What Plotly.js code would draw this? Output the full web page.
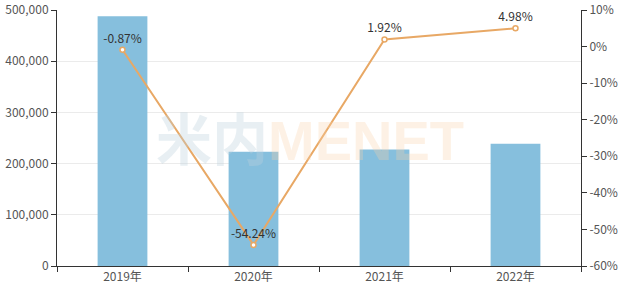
<!DOCTYPE html>
<html>
<head>
<meta charset="utf-8">
<script src="https://cdn.plot.ly/plotly-3.0.1.min.js"></script>
<style>html,body{margin:0;padding:0;background:#fff;}#chart{width:621px;height:290px;}</style>
</head>
<body>
<div id="chart"></div>
<script>
var categories = ['2019年', '2020年', '2021年', '2022年'];
var volumes = [488000, 223000, 227500, 239000];
var growthPct = [-0.87, -54.24, 1.92, 4.98];
var pctTicks = [10, 0, -10, -20, -30, -40, -50, -60];

var font = "'Noto Sans CJK SC', 'Microsoft YaHei', sans-serif";

var traces = [
  {
    type: 'bar', x: categories, y: volumes,
    marker: {color: '#86BFDD'}, hoverinfo: 'none', showlegend: false
  },
  {
    type: 'scatter', mode: 'lines+markers+text', x: categories, y: growthPct, yaxis: 'y2',
    line: {color: '#E8A865', width: 2},
    marker: {size: 5, color: '#ffffff', line: {color: '#E8A865', width: 1.5}},
    text: growthPct.map(function(v){ return v.toFixed(2) + '%'; }),
    textposition: 'top center', textfont: {family: font, size: 12, color: '#333'},
    cliponaxis: false, hoverinfo: 'none', showlegend: false
  }
];

var layout = {
  width: 621, height: 290,
  margin: {l: 57, r: 40, t: 10, b: 24},
  paper_bgcolor: '#fff', plot_bgcolor: '#fff',
  bargap: 0.62,
  font: {family: font, size: 12, color: '#555'},
  xaxis: {
    type: 'category', showline: true, linecolor: '#333', linewidth: 1,
    ticks: 'outside', tickson: 'boundaries', ticklen: 5, tickcolor: '#333',
    showgrid: false, tickfont: {size: 12, color: '#555'}
  },
  yaxis: {
    range: [0, 500000], dtick: 100000, tickformat: ',d',
    showline: true, linecolor: '#333', ticks: 'outside', ticklen: 5, tickcolor: '#333',
    showgrid: true, gridcolor: '#ebebeb', zeroline: false,
    tickfont: {size: 12, color: '#555'}
  },
  yaxis2: {
    overlaying: 'y', side: 'right', range: [-60, 10],
    tickmode: 'array', tickvals: pctTicks,
    ticktext: pctTicks.map(function(v){ return String(v) + '%'; }),
    showline: true, linecolor: '#333', ticks: 'outside', ticklen: 5, tickcolor: '#333',
    showgrid: false, zeroline: false, tickfont: {size: 12, color: '#555'}
  },
  annotations: [
    {
      xref: 'paper', yref: 'paper', x: 0.483, y: 0.49, xanchor: 'center', yanchor: 'middle',
      showarrow: false,
      text: '<b><span style="color:rgba(190,210,222,0.35)">米内</span><span style="color:rgba(250,210,170,0.3)">MENET</span></b>',
      font: {family: "Arial, 'Noto Sans CJK SC', sans-serif", size: 56}
    }
  ]
};

Plotly.newPlot('chart', traces, layout, {displayModeBar: false, staticPlot: true});
</script>
</body>
</html>
